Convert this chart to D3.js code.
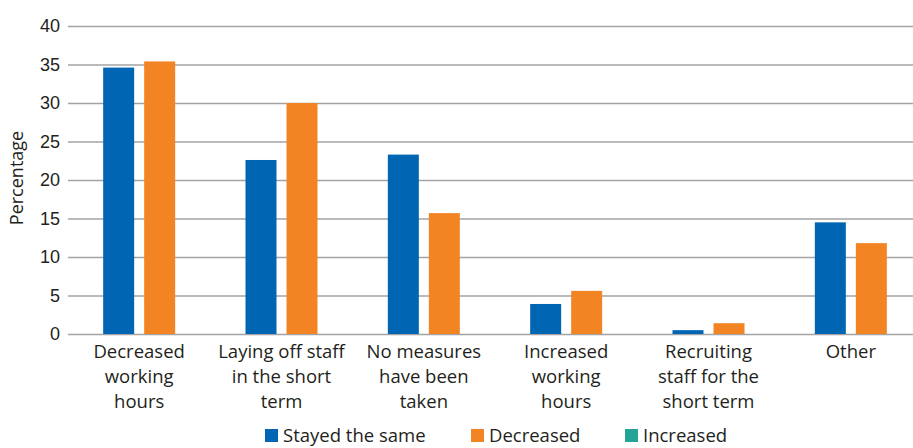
<!DOCTYPE html>
<html>
<head>
<meta charset="utf-8">
<script src="https://cdn.jsdelivr.net/npm/d3@7"></script>
<style>
  body { margin: 0; background: #fff; }
  svg { display: block; font-family: "Open Sans", sans-serif; }
</style>
</head>
<body>
<div class="chart"></div>
<script>
const width = 913;
const height = 448;

// categories, with manual line breaks as in the original
const categories = [
  ["Decreased", "working", "hours"],
  ["Laying off staff", "in the short", "term"],
  ["No measures", "have been", "taken"],
  ["Increased", "working", "hours"],
  ["Recruiting", "staff for the", "short term"],
  ["Other"]
];
const seriesNames = ["Stayed the same", "Decreased", "Increased"];
const seriesColors = ["#0066b3", "#f28423", "#23a497"];
const stayedValues = [34.6, 22.6, 23.3, 3.9, 0.5, 14.5];
const decreasedValues = [35.4, 30.0, 15.7, 5.6, 1.4, 11.8];
const increasedValues = [null, null, null, null, null, null];
const yTicks = [0, 5, 10, 15, 20, 25, 30, 35, 40];

const seriesValues = [stayedValues, decreasedValues, increasedValues];
const margin = { top: 26, right: -9, bottom: 114, left: 68 };

const svg = d3.select(".chart").append("svg")
    .attr("width", width)
    .attr("height", height);

const y = d3.scaleLinear()
    .domain([0, 40])
    .range([height - margin.bottom, margin.top]);

const x0 = d3.scaleBand()
    .domain(d3.range(categories.length))
    .range([margin.left, width - margin.right]);

// only series that actually have values get a slot in the group
const drawn = d3.range(seriesNames.length).filter(s => seriesValues[s].some(v => v != null));
const groupW = 72;
const x1 = d3.scaleBand()
    .domain(drawn)
    .range([x0.bandwidth() / 2 - groupW / 2, x0.bandwidth() / 2 + groupW / 2])
    .paddingInner(0.244);

// gridlines + tick labels
const yAxis = svg.append("g")
    .attr("transform", `translate(${margin.left},0)`)
    .call(d3.axisLeft(y).tickValues(yTicks).tickSize(-(width - margin.left)).tickPadding(8));
yAxis.select(".domain").remove();
yAxis.selectAll(".tick line").attr("stroke", "#a3a3a3").attr("stroke-width", 1.4);
yAxis.selectAll(".tick text")
    .attr("fill", "#231f20")
    .style("font-size", "18px");

svg.append("text")
    .attr("transform", `translate(23,178) rotate(-90)`)
    .attr("text-anchor", "middle")
    .attr("fill", "#231f20")
    .style("font-size", "18px")
    .text("Percentage");

// bars
const bars = [];
drawn.forEach(s => {
  seriesValues[s].forEach((v, i) => {
    if (v != null) bars.push({ s, i, v });
  });
});

svg.append("g")
  .selectAll("rect")
  .data(bars)
  .join("rect")
    .attr("x", d => x0(d.i) + x1(d.s))
    .attr("y", d => y(d.v))
    .attr("width", x1.bandwidth())
    .attr("height", d => y(0) - y(d.v))
    .attr("fill", d => seriesColors[d.s]);

// category labels
const cat = svg.append("g")
  .selectAll("text")
  .data(categories)
  .join("text")
    .attr("x", (d, i) => x0(i) + x0.bandwidth() / 2)
    .attr("y", 358)
    .attr("text-anchor", "middle")
    .attr("fill", "#231f20")
    .style("font-size", "18.5px");
cat.selectAll("tspan")
  .data(d => d)
  .join("tspan")
    .attr("x", function() { return this.parentNode.getAttribute("x"); })
    .attr("dy", (d, j) => j === 0 ? 0 : 25)
    .text(d => d);

// legend
const legendX = [265, 471, 625];
const legend = svg.append("g")
  .selectAll("g")
  .data(seriesNames)
  .join("g")
    .attr("transform", (d, i) => `translate(${legendX[i]},429)`);
legend.append("rect")
    .attr("width", 13)
    .attr("height", 13)
    .attr("fill", (d, i) => seriesColors[i]);
legend.append("text")
    .attr("x", 18)
    .attr("y", 12.5)
    .attr("fill", "#231f20")
    .style("font-size", "18.5px")
    .text(d => d);
</script>
</body>
</html>
